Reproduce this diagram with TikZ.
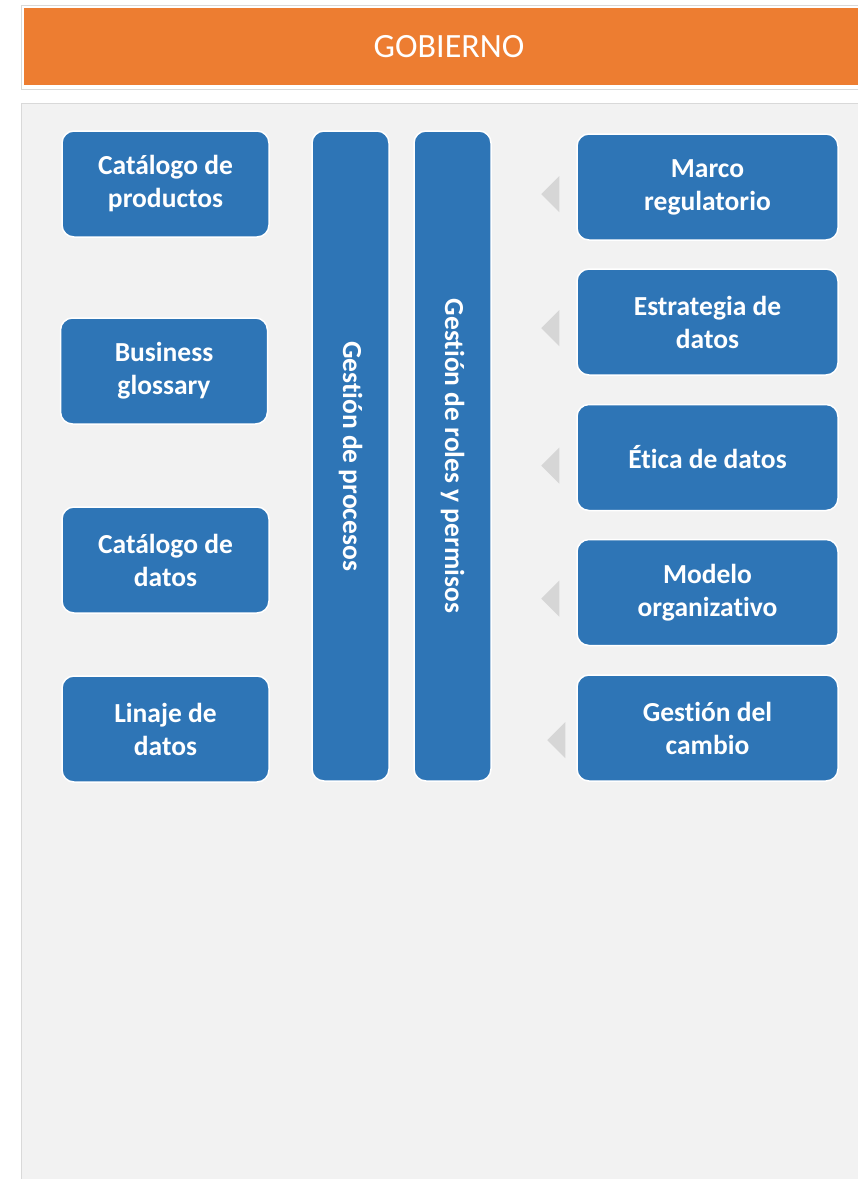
\documentclass[tikz,border=0pt]{standalone}
\usepackage{fontspec}
\setmainfont{Carlito}[Ligatures={NoCommon}]
\usetikzlibrary{calc}
\definecolor{gobOrange}{HTML}{ED7D31}
\definecolor{gobBlue}{HTML}{2E75B6}
\definecolor{panelGrey}{HTML}{F2F2F2}
\definecolor{lineGrey}{HTML}{D9D9D9}
\definecolor{flechaGrey}{HTML}{D6D6D6}
\tikzset{
  bloque/.style={draw=white, line width=1.5pt, fill=gobBlue, rounded corners=12pt,
    text=white, align=center, inner sep=0pt,
    font=\bfseries\fontsize{27.5}{33}\selectfont},
  izq/.style={bloque, minimum width=207pt, minimum height=106pt},
  der/.style={bloque, minimum width=261pt, minimum height=106pt},
  barra/.style={bloque, rotate=-90, minimum width=650pt, minimum height=77pt},
  flecha/.style={fill=flechaGrey}
}
\begin{document}
\begin{tikzpicture}[x=1pt, y=-1pt]
  \useasboundingbox (0,0) rectangle (858,1179);
  % cabecera y panel
  \draw[lineGrey, line width=0.6pt] (21,5) rectangle (890,89);
  \node (gobierno) at (449,46.5) [fill=gobOrange, minimum width=850pt, minimum height=77pt,
    inner sep=0pt, text=white, font=\fontsize{34}{36}\selectfont] {GOBIERNO};
  \draw[lineGrey, line width=0.6pt, fill=panelGrey] (21,103) rectangle (890,1190);
  % columna izquierda
  \node (prod) at (165.5,184) [izq] {Catálogo de\\productos};
  \node (glos) at (164,371) [izq] {Business\\glossary};
  \node (cdat) at (165.5,560) [izq] {Catálogo de\\datos};
  \node (lin) at (165.5,729) [izq] {Linaje de\\datos};
  % barras verticales
  \node (proc) at (350.5,456) [barra] {Gestión de procesos};
  \node (roles) at (452.5,456) [barra] {Gestión de roles y permisos};
  % columna derecha
  \node (marco) at (707.5,187) [der] {Marco\\regulatorio};
  \node (estr) at (707.5,322) [der] {Estrategia de\\datos};
  \node (etica) at (707.5,457.5) [der] {Ética de datos};
  \node (modelo) at (707.5,592.5) [der] {Modelo\\organizativo};
  \node (cambio) at (707.5,728) [der] {Gestión del\\cambio};
  % flechas grises
  \fill[flecha] ($(marco.west)+(-17,-11)$) -- ++(0,36) -- ++(-18,-18) -- cycle;
  \fill[flecha] ($(estr.west)+(-17,-12)$) -- ++(0,36) -- ++(-18,-18) -- cycle;
  \fill[flecha] ($(etica.west)+(-17,-10)$) -- ++(0,36) -- ++(-18,-18) -- cycle;
  \fill[flecha] ($(modelo.west)+(-17,-12)$) -- ++(0,36) -- ++(-18,-18) -- cycle;
  \fill[flecha] ($(cambio.west)+(-11,-6)$) -- ++(0,36) -- ++(-18,-18) -- cycle;
\end{tikzpicture}
\end{document}
